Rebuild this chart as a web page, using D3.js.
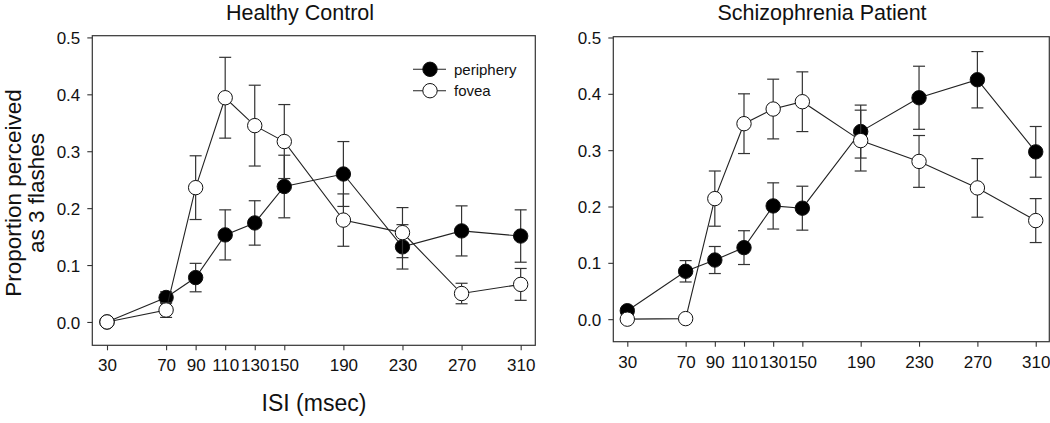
<!DOCTYPE html>
<html>
<head>
<meta charset="utf-8">
<script src="https://cdn.jsdelivr.net/npm/d3@7/dist/d3.min.js"></script>
<style>
  html, body { margin: 0; padding: 0; background: #fff; }
  svg { display: block; }
  text { font-family: "Liberation Sans", Arial, sans-serif; fill: #111; }
</style>
</head>
<body>
<svg id="chart" width="1050" height="423"></svg>
<script>
// ---- data ----
const isi = [30, 70, 90, 110, 130, 150, 190, 230, 270, 310];
const xTicks = [30, 70, 90, 110, 130, 150, 190, 230, 270, 310];
const yTicks = [0.0, 0.1, 0.2, 0.3, 0.4, 0.5];
const seriesNames = ["periphery", "fovea"];
const panelTitles = ["Healthy Control", "Schizophrenia Patient"];

const hcPeriphery    = [0.000, 0.043, 0.078, 0.153, 0.174, 0.238, 0.260, 0.132, 0.160, 0.151];
const hcPeripheryErr = [0.000, 0.010, 0.025, 0.044, 0.039, 0.055, 0.057, 0.039, 0.044, 0.046];
const hcFovea        = [0.000, 0.021, 0.236, 0.394, 0.345, 0.317, 0.179, 0.157, 0.050, 0.066];
const hcFoveaErr     = [0.000, 0.013, 0.056, 0.071, 0.071, 0.065, 0.046, 0.044, 0.018, 0.028];

const szPeriphery    = [0.015, 0.085, 0.105, 0.127, 0.201, 0.197, 0.333, 0.393, 0.425, 0.297];
const szPeripheryErr = [0.000, 0.019, 0.024, 0.030, 0.041, 0.039, 0.047, 0.056, 0.050, 0.045];
const szFovea        = [0.000, 0.001, 0.214, 0.347, 0.373, 0.386, 0.317, 0.280, 0.233, 0.175];
const szFoveaErr     = [0.000, 0.000, 0.049, 0.053, 0.053, 0.053, 0.054, 0.046, 0.052, 0.039];

// ---- layout ----
const panels = [
  { title: panelTitles[0], periphery: hcPeriphery, peripheryErr: hcPeripheryErr, fovea: hcFovea, foveaErr: hcFoveaErr,
    left: 92.3, right: 535.3, top: 35.7, bottom: 345.3, xDom: [20.05, 319.9], yDom: [-0.041, 0.503],
    titleX: 300, legend: true, yLabel: true, xLabel: true },
  { title: panelTitles[1], periphery: szPeriphery, peripheryErr: szPeripheryErr, fovea: szFovea, foveaErr: szFoveaErr,
    left: 613.3, right: 1049.3, top: 36.7, bottom: 341.7, xDom: [20.4, 319.3], yDom: [-0.04, 0.5014],
    titleX: 822, legend: false, yLabel: false, xLabel: false }
];

const svg = d3.select("#chart");
const lineColor = "#222";
const R = 7.2;

panels.forEach(p => {
  const g = svg.append("g");
  const x = d3.scaleLinear().domain(p.xDom).range([p.left, p.right]);
  const y = d3.scaleLinear().domain(p.yDom).range([p.bottom, p.top]);

  // frame
  g.append("rect")
    .attr("x", p.left).attr("y", p.top)
    .attr("width", p.right - p.left).attr("height", p.bottom - p.top)
    .attr("fill", "none").attr("stroke", "#333").attr("stroke-width", 1.2);

  // axes
  const xAxis = d3.axisBottom(x).tickValues(xTicks).tickSize(5).tickPadding(9).tickFormat(d3.format("d"));
  const gx = g.append("g").attr("transform", `translate(0,${p.bottom})`).call(xAxis);
  const yAxis = d3.axisLeft(y).tickValues(yTicks).tickSize(5).tickPadding(7).tickFormat(d3.format(".1f"));
  const gy = g.append("g").attr("transform", `translate(${p.left},0)`).call(yAxis);
  [gx, gy].forEach(a => {
    a.select(".domain").remove();
    a.selectAll(".tick line").attr("stroke", "#333").attr("stroke-width", 1.1);
    a.selectAll(".tick text").style("font-size", "17px").attr("fill", "#111")
      .style("font-family", '"Liberation Sans", Arial, sans-serif');
  });
  gy.selectAll(".tick text").attr("dy", "0.36em");

  // title
  g.append("text").attr("x", p.titleX).attr("y", 19.6).attr("text-anchor", "middle")
    .style("font-size", "21.5px").text(p.title);

  const series = [
    { name: seriesNames[0], vals: p.periphery, errs: p.peripheryErr, fill: "#000" },
    { name: seriesNames[1], vals: p.fovea, errs: p.foveaErr, fill: "#fff" }
  ];

  const line = d3.line().x((d, i) => x(isi[i])).y(d => y(d));

  series.forEach(s => {
    const sg = g.append("g");
    sg.append("path").datum(s.vals).attr("d", line)
      .attr("fill", "none").attr("stroke", lineColor).attr("stroke-width", 1.1);
    // error bars
    const eb = sg.selectAll(".eb").data(s.vals.map((v, i) => ({ v, e: s.errs[i], xv: isi[i] })).filter(d => d.e > 0))
      .enter().append("g").attr("class", "eb")
      .attr("stroke", "#333").attr("stroke-width", 1.2);
    eb.append("line").attr("x1", d => x(d.xv)).attr("x2", d => x(d.xv))
      .attr("y1", d => y(d.v - d.e)).attr("y2", d => y(d.v + d.e));
    eb.append("line").attr("x1", d => x(d.xv) - 6).attr("x2", d => x(d.xv) + 6)
      .attr("y1", d => y(d.v + d.e)).attr("y2", d => y(d.v + d.e));
    eb.append("line").attr("x1", d => x(d.xv) - 6).attr("x2", d => x(d.xv) + 6)
      .attr("y1", d => y(d.v - d.e)).attr("y2", d => y(d.v - d.e));
    // markers
    sg.selectAll("circle").data(s.vals).enter().append("circle")
      .attr("cx", (d, i) => x(isi[i])).attr("cy", d => y(d)).attr("r", R)
      .attr("fill", s.fill).attr("stroke", "#111").attr("stroke-width", 1);
  });

  if (p.legend) {
    const lg = g.append("g");
    series.forEach((s, i) => {
      const ly = 69.3 + i * 21.4;
      lg.append("line").attr("x1", 413).attr("x2", 446).attr("y1", ly).attr("y2", ly)
        .attr("stroke", lineColor).attr("stroke-width", 1.1);
      lg.append("circle").attr("cx", 430).attr("cy", ly).attr("r", R)
        .attr("fill", s.fill).attr("stroke", "#111").attr("stroke-width", 1);
      lg.append("text").attr("x", 454).attr("y", ly).attr("dy", "0.35em")
        .style("font-size", "15px").text(s.name);
    });
  }

  if (p.yLabel) {
    const cy = 193;
    g.append("text").attr("transform", `translate(21,${cy}) rotate(-90)`)
      .attr("text-anchor", "middle").style("font-size", "22.5px").text("Proportion perceived");
    g.append("text").attr("transform", `translate(44,${cy}) rotate(-90)`)
      .attr("text-anchor", "middle").style("font-size", "22.5px").text("as 3 flashes");
  }
  if (p.xLabel) {
    g.append("text").attr("x", 314).attr("y", 411).attr("text-anchor", "middle")
      .style("font-size", "23px").text("ISI (msec)");
  }
});
</script>
</body>
</html>
